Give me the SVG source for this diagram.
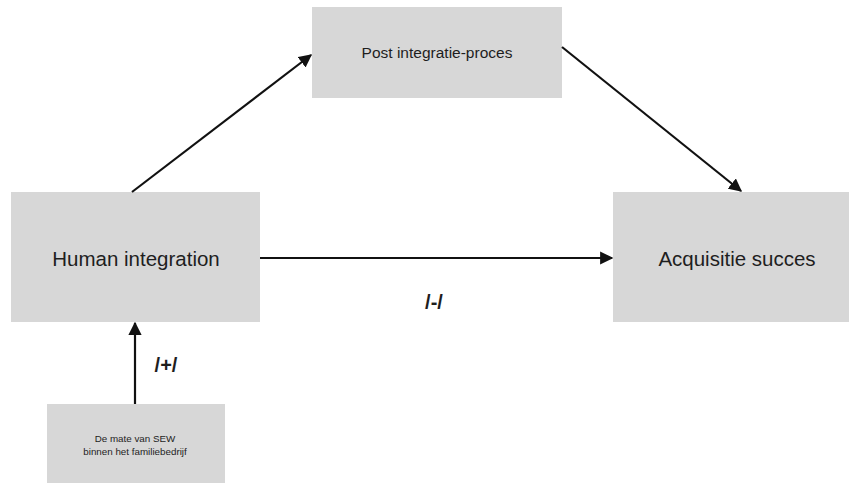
<svg xmlns="http://www.w3.org/2000/svg" width="849" height="483" viewBox="0 0 849 483">
<style>
.box{fill:#d7d7d7}
.t{font-family:"Liberation Sans",Arial,sans-serif;fill:#1e1e1e;text-anchor:middle}
.c{stroke:#111;stroke-width:2.2;fill:none;marker-end:url(#ah)}
</style>
<defs>
<marker id="ah" viewBox="0 0 10 10" refX="9" refY="5" markerWidth="6" markerHeight="6" markerUnits="strokeWidth" orient="auto">
<path d="M0,0 L10,5 L0,10 z" fill="#111"/>
</marker>
</defs>
<rect width="849" height="483" fill="#fff"/>
<g id="post">
<rect class="box" x="312" y="7" width="250" height="91"/>
<text class="t" x="437" y="58" font-size="15.5">Post integratie-proces</text>
</g>
<g id="human">
<rect class="box" x="11" y="192" width="249" height="130"/>
<text class="t" x="136" y="266" font-size="20.5">Human integration</text>
</g>
<g id="acq">
<rect class="box" x="613" y="192" width="236" height="130"/>
<text class="t" x="737" y="266" font-size="20.5">Acquisitie succes</text>
</g>
<g id="sew">
<rect class="box" x="47" y="404" width="178" height="79"/>
<text class="t" x="135" y="442" font-size="9.8" fill="#333">De mate van SEW</text>
<text class="t" x="135" y="455" font-size="9.8" fill="#333">binnen het familiebedrijf</text>
</g>
<g id="connectors">
<line class="c" x1="132" y1="192" x2="311" y2="55"/>
<line class="c" x1="562" y1="47" x2="741" y2="191"/>
<line class="c" x1="260" y1="258" x2="612" y2="258"/>
<line class="c" x1="135" y1="404" x2="135" y2="323"/>
<text class="t" x="434" y="309" font-size="20" font-weight="bold">/-/</text>
<text class="t" x="166" y="372" font-size="20" font-weight="bold">/+/</text>
</g>
</svg>
